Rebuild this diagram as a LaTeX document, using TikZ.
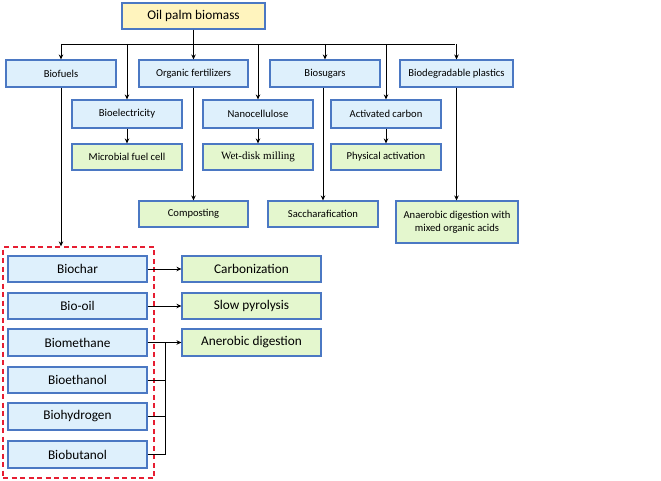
\documentclass[tikz,border=0pt]{standalone}
\usepackage{fontspec}
\setmainfont{Carlito}
\newfontfamily\serifx{Liberation Serif}
\usetikzlibrary{arrows.meta,shadows}
\definecolor{bfill}{RGB}{222,240,252}
\definecolor{gfill}{RGB}{228,247,206}
\definecolor{yfill}{RGB}{255,244,190}
\definecolor{bord}{RGB}{75,120,195}
\definecolor{dred}{RGB}{230,30,50}
\tikzset{
  boxbase/.style={draw=bord, line width=1.1pt, rectangle, inner sep=2pt, align=center,
    font=\fontsize{10.6}{12}\selectfont,
    drop shadow={shadow xshift=1.2pt, shadow yshift=-1.2pt, fill=black!25}},
  bluebox/.style={boxbase, fill=bfill},
  greenbox/.style={boxbase, fill=gfill},
  yelbox/.style={boxbase, fill=yfill},
  bigtext/.style={font=\fontsize{13.3}{15}\selectfont},
  conn/.style={draw=black, line width=0.8pt},
  arr/.style={conn, -{Stealth[length=5pt,width=4.5pt]}},
  dashbox/.style={draw=dred, line width=1.3pt, dash pattern=on 5pt off 3.5pt, rectangle}
}
\begin{document}
\begin{tikzpicture}[x=1pt,y=-1pt]
\useasboundingbox (0,0) rectangle (661,481);
% row 0
\node[yelbox, bigtext, minimum width=143pt, minimum height=26pt] (top) at (193.5,16) {Oil palm biomass};
% row 1
\node[bluebox, minimum width=110pt, minimum height=27pt] (biofuels) at (61,73.5) {Biofuels};
\node[bluebox, minimum width=109pt, minimum height=27pt] (orgfert) at (193.5,73.5) {Organic fertilizers};
\node[bluebox, minimum width=110pt, minimum height=27pt] (biosugars) at (325,73.5) {Biosugars};
\node[bluebox, minimum width=113pt, minimum height=27pt] (bioplast) at (456.5,73.5) {Biodegradable plastics};
% row 2
\node[bluebox, minimum width=110pt, minimum height=28pt] (bioelec) at (127,114) {Bioelectricity};
\node[bluebox, minimum width=110pt, minimum height=28pt] (nanocell) at (258,114) {Nanocellulose};
\node[bluebox, minimum width=110pt, minimum height=28pt] (actcarb) at (386,114) {Activated carbon};
% row 3
\node[greenbox, minimum width=110pt, minimum height=26pt] (mfc) at (127,157) {Microbial fuel cell};
\node[greenbox, minimum width=110pt, minimum height=26pt, font=\serifx\fontsize{11}{12}\selectfont] (wdm) at (258,157) {Wet-disk milling};
\node[greenbox, minimum width=110pt, minimum height=26pt] (physact) at (386,157) {Physical activation};
% row 4
\node[greenbox, minimum width=109pt, minimum height=26pt] (compost) at (193.5,214) {Composting};
\node[greenbox, minimum width=110pt, minimum height=26pt] (sacch) at (323,214) {Saccharafication};
\node[greenbox, minimum width=122pt, minimum height=42pt] (anaer) at (457,222) {Anaerobic digestion with\\[1pt]mixed organic acids};
% group
\node[dashbox, minimum width=151pt, minimum height=231pt] (group) at (78.5,362.5) {};
\node[bluebox, bigtext, minimum width=139pt, minimum height=26pt] (biochar) at (77.5,269) {Biochar};
\node[bluebox, bigtext, minimum width=139pt, minimum height=26pt] (biooil) at (77.5,306) {Bio-oil};
\node[bluebox, bigtext, minimum width=139pt, minimum height=27pt] (biometh) at (77.5,342.5) {Biomethane};
\node[bluebox, bigtext, minimum width=139pt, minimum height=26pt] (bioeth) at (77.5,380) {Bioethanol};
\node[bluebox, bigtext, minimum width=139pt, minimum height=27pt] (biohyd) at (77.5,416.5) {Biohydrogen};
\node[bluebox, bigtext, minimum width=139pt, minimum height=27pt] (biobut) at (77.5,454.5) {Biobutanol};
\node[greenbox, bigtext, minimum width=139pt, minimum height=26pt] (carbon) at (251.5,269) {Carbonization};
\node[greenbox, bigtext, minimum width=139pt, minimum height=26pt] (slowpy) at (251.5,306) {Slow pyrolysis};
\node[greenbox, bigtext, minimum width=139pt, minimum height=27pt] (anerob) at (251.5,342.5) {Anerobic digestion};
% bus
\coordinate (busL) at (61,44);
\coordinate (busR) at (455,44);
\coordinate (busC) at (193.5,44);
\coordinate (jn) at (165,342.5);
\draw[conn] (busL) -- (busR);
\draw[arr] (top.south) -- (orgfert.north);
\draw[arr] (busL) -- (biofuels.north);
\draw[arr] (busC -| biosugars.north) -- (biosugars.north);
\draw[arr] (busC -| bioplast.north) -- (bioplast.north);
\draw[arr] (busC -| bioelec.north) -- (bioelec.north);
\draw[arr] (busC -| nanocell.north) -- (nanocell.north);
\draw[arr] (busC -| actcarb.north) -- (actcarb.north);
\draw[arr] (bioelec.south) -- (mfc.north);
\draw[arr] (nanocell.south) -- (wdm.north);
\draw[arr] (actcarb.south) -- (physact.north);
\draw[arr] (orgfert.south) -- (compost.north);
\draw[arr] (biosugars.south -| sacch.north) -- (sacch.north);
\draw[arr] (bioplast.south) -- (bioplast.south |- anaer.north);
\draw[arr] (biofuels.south) -- (biofuels.south |- group.north);
\draw[arr] (biochar.east) -- (carbon.west);
\draw[arr] (biooil.east) -- (slowpy.west);
\draw[arr] (biometh.east) -- (anerob.west);
\draw[conn] (bioeth.east) -| (jn);
\draw[conn] (biohyd.east) -| (jn);
\draw[conn] (biobut.east) -| (jn);
\end{tikzpicture}
\end{document}
